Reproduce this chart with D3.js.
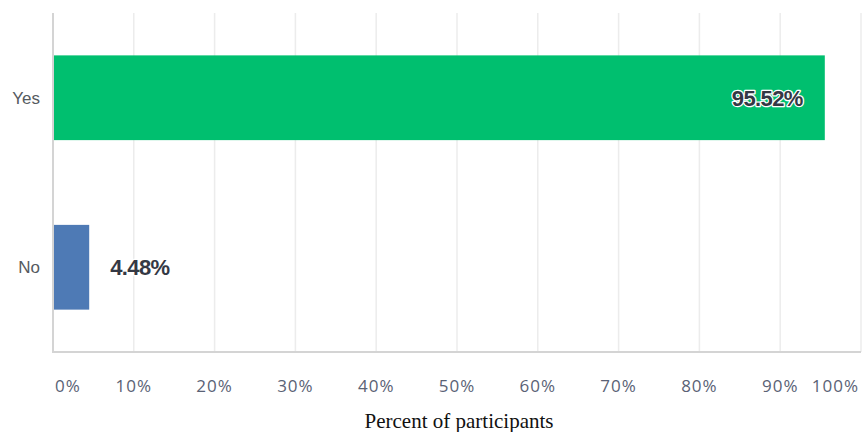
<!DOCTYPE html>
<html>
<head>
<meta charset="utf-8">
<script src="https://cdn.jsdelivr.net/npm/d3@7"></script>
<style>
  html, body { margin: 0; padding: 0; background: #fff; }
  svg { display: block; }
</style>
</head>
<body>
<svg id="chart" width="867" height="432"></svg>
<script>
// Survey answers and share of participants (%)
const categories = ["Yes", "No"];
const values = [95.52, 4.48];
const barColors = ["#00BF6F", "#4E7AB5"];
const tickValues = [0, 10, 20, 30, 40, 50, 60, 70, 80, 90, 100];
const tickLabels = ["0%", "10%", "20%", "30%", "40%", "50%", "60%", "70%", "80%", "90%", "100%"];
const axisTitle = "Percent of participants";

const svg = d3.select("#chart");
const margin = { left: 53, right: 6, top: 13, bottom: 80 };
const W = 867, H = 432;
const plotBottom = H - margin.bottom;

const x = d3.scaleLinear().domain([0, 100]).range([margin.left, W - margin.right]);
const y = d3.scaleBand().domain(categories).range([margin.top, plotBottom])
  .paddingInner(0.5).paddingOuter(0.25);

// vertical gridlines
svg.append("g").selectAll("line").data(tickValues.slice(1)).join("line")
  .attr("x1", d => x(d)).attr("x2", d => x(d))
  .attr("y1", margin.top).attr("y2", plotBottom)
  .attr("stroke", "#ececec").attr("stroke-width", 1.5);

// bars
svg.append("g").selectAll("rect").data(categories).join("rect")
  .attr("x", x(0))
  .attr("y", d => y(d))
  .attr("width", (d, i) => x(values[i]) - x(0))
  .attr("height", y.bandwidth())
  .attr("fill", (d, i) => barColors[i]);

// axis lines
svg.append("line").attr("x1", x(0)).attr("x2", x(0))
  .attr("y1", margin.top).attr("y2", plotBottom + 1)
  .attr("stroke", "#d4d4d4").attr("stroke-width", 2);
svg.append("line").attr("x1", x(0) - 1).attr("x2", x(100))
  .attr("y1", plotBottom).attr("y2", plotBottom)
  .attr("stroke", "#d4d4d4").attr("stroke-width", 2);

// category labels
svg.append("g").selectAll("text").data(categories).join("text")
  .attr("x", 40)
  .attr("y", d => y(d) + y.bandwidth() / 2)
  .attr("dy", "0.35em")
  .attr("text-anchor", "end")
  .attr("font-family", "Arial, 'Liberation Sans', sans-serif")
  .attr("font-size", 17)
  .attr("fill", "#555a60")
  .text(d => d);

// tick labels (edge labels kept inside the plot)
svg.append("g").selectAll("text").data(tickValues).join("text")
  .attr("x", (d, i) => i === 0 ? x(d) + 2 : (i === tickValues.length - 1 ? x(d) - 2 : x(d)))
  .attr("y", 392)
  .attr("text-anchor", (d, i) => i === 0 ? "start" : (i === tickValues.length - 1 ? "end" : "middle"))
  .attr("font-family", "'Open Sans', sans-serif")
  .attr("font-size", 17)
  .attr("letter-spacing", 1)
  .attr("fill", "#5a6275")
  .text((d, i) => tickLabels[i]);

// value labels
svg.append("g").selectAll("text").data(categories).join("text")
  .attr("x", (d, i) => i === 0 ? x(values[i]) - 22 : x(values[i]) + 21)
  .attr("y", d => y(d) + y.bandwidth() / 2)
  .attr("dy", "0.36em")
  .attr("text-anchor", (d, i) => i === 0 ? "end" : "start")
  .attr("font-family", "Arial, 'Liberation Sans', sans-serif")
  .attr("font-weight", "bold")
  .attr("font-size", 22)
  .attr("letter-spacing", -0.6)
  .attr("fill", "#343844")
  .attr("stroke", "#ffffff")
  .attr("stroke-width", 2.5)
  .attr("stroke-linejoin", "round")
  .attr("paint-order", "stroke")
  .text((d, i) => values[i].toFixed(2) + "%");

// axis title
svg.append("text")
  .attr("x", 459).attr("y", 428)
  .attr("text-anchor", "middle")
  .attr("font-family", "'Liberation Serif', 'Times New Roman', serif")
  .attr("font-size", 21)
  .attr("fill", "#111")
  .text(axisTitle);
</script>
</body>
</html>
